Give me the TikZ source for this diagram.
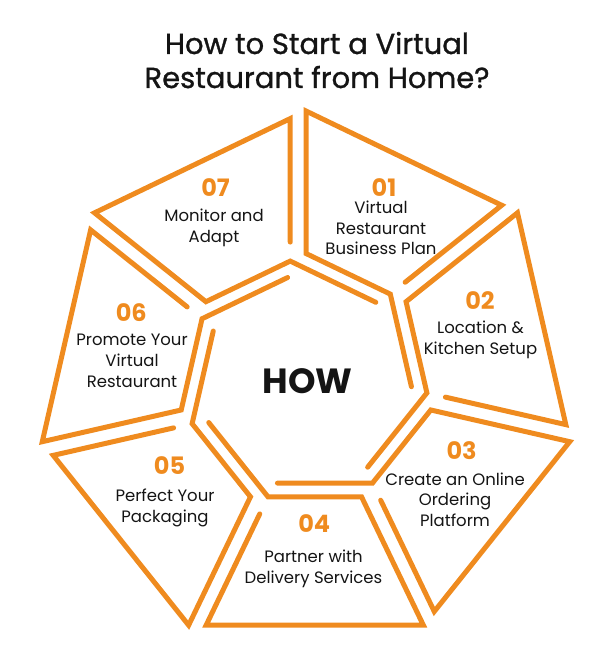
\documentclass[tikz,border=0pt]{standalone}
\usepackage{fontspec}
\setmainfont{Poppins}
\newfontfamily\titlefont[FakeBold=1]{Poppins}
\usetikzlibrary{calc}
\definecolor{accent}{HTML}{EF8B1F}
\definecolor{ink}{HTML}{141414}
\tikzset{
  every picture/.style={line width=5pt, text=ink},
  segment/.style={draw=accent, line join=miter, line cap=round},
  stepno/.style={text=accent, font=\bfseries\fontsize{24}{24}\selectfont, anchor=base, inner sep=0pt},
  steptext/.style={font=\fontsize{16.5}{20.7}\selectfont, align=center, anchor=base, inner sep=0pt},
  heading/.style={font=\titlefont\fontsize{29}{34}\selectfont, align=center, anchor=base, inner sep=0pt},
  hub/.style={font=\bfseries\fontsize{35}{35}\selectfont, anchor=base, inner sep=0pt},
}
\begin{document}
\begin{tikzpicture}[x=1pt, y=1pt]
\useasboundingbox (0,0) rectangle (610,654);
\coordinate (O) at (306,272.5);
\foreach \k in {1,...,7} {
  \pgfmathsetmacro\ap{90-360/7*(\k-1)}
  \pgfmathsetmacro\aq{90-360/7*\k}
  \pgfmathsetmacro\an{90-360/7*(\k+1)}
  \coordinate (Vp\k) at ($(O)+(\ap:270.5pt)$);
  \coordinate (V\k) at ($(O)+(\aq:270.5pt)$);
  \coordinate (Up\k) at ($(O)+(\ap:128pt)$);
  \coordinate (U\k) at ($(O)+(\aq:128pt)$);
  \coordinate (Un\k) at ($(O)+(\an:128pt)$);
  \coordinate (P\k) at ($(V\k)!17.5pt!(Vp\k)$);
  \coordinate (Q\k) at ($(U\k)!17.5pt!(Up\k)$);
  \coordinate (S\k) at ($(Q\k)!19pt!(P\k)$);
  \coordinate (D\k) at ($(Q\k)+(Un\k)-(U\k)$);
  \coordinate (C\k) at ($(Q\k)!95pt!(D\k)$);
  \draw[segment] (S\k) -- (P\k) -- (Vp\k) -- (Up\k) -- (Q\k) -- (C\k);
}
\node[heading] (title) at (317,566) {How to Start a Virtual\\Restaurant from Home?};
\node[hub] (how) at (307.7,260.7) {HOW};
\foreach \n/\nx/\ny/\tx/\ty/\txt in {
  01/384/457.3/381/399/{Virtual\\Restaurant\\Business Plan},
  02/480/344/480.5/299.7/{Location \&\\Kitchen Setup},
  03/461.6/194/455/127.3/{Create an Online\\Ordering\\Platform},
  04/314.2/121.3/313.5/70.7/{Partner with\\Delivery Services},
  05/169.5/179/165/131.3/{Perfect Your\\Packaging},
  06/131.3/332.3/132/266.7/{Promote Your\\Virtual\\Restaurant},
  07/215.5/457.3/214/411.3/{Monitor and\\Adapt}}
{
  \node[stepno] (n\n) at (\nx,\ny) {\n};
  \node[steptext] (t\n) at (\tx,\ty) {\txt};
}
\end{tikzpicture}
\end{document}
